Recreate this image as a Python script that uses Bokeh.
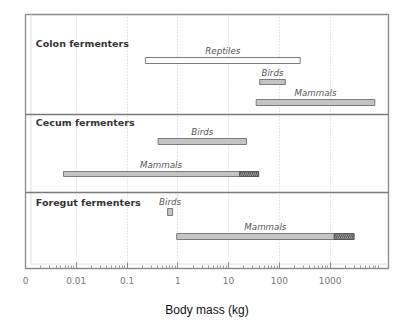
from bokeh.plotting import figure
from bokeh.models import Range1d, FixedTicker, Span, BoxAnnotation
from bokeh.core.properties import value
from bokeh.embed import file_html
from bokeh.resources import INLINE
import math

# ---- data (body mass ranges, kg) ----
groups = ["Colon fermenters", "Cecum fermenters", "Foregut fermenters"]

colon_taxa = ["Reptiles", "Birds", "Mammals"]
colon_min = [0.23, 41, 35]
colon_max = [257, 131, 7600]
colon_ext = [None, None, None]

cecum_taxa = ["Birds", "Mammals"]
cecum_min = [0.41, 0.0056]
cecum_max = [22.6, 16.5]
cecum_ext = [None, 39]

foregut_taxa = ["Birds", "Mammals"]
foregut_min = [0.63, 0.95]
foregut_max = [0.79, 1200]
foregut_ext = [None, 2950]

tick_values = [0.001, 0.01, 0.1, 1, 10, 100, 1000]
tick_labels = ["0", "0.01", "0.1", "1", "10", "100", "1000"]

# ---- layout (vertical positions in frame pixels from top) ----
group_label_y = [43, 122, 202]
separators_y = [114, 192]
colon_rows = [(57, 63), (79, 84), (99, 105)]
cecum_rows = [(138, 144), (171, 176)]
foregut_rows = [(208, 215), (233, 239)]

p = figure(width=403, height=322, x_axis_type="log",
           x_range=Range1d(0.001, 10 ** 4.15), y_range=Range1d(268, 14),
           output_backend="svg", toolbar_location=None,
           min_border_left=25, min_border_right=15, min_border_top=14,
           min_border_bottom=54)
p.yaxis.visible = False
p.ygrid.visible = False
p.outline_line_color = "#8a8a8a"
p.outline_line_width = 1.3
p.background_fill_color = "white"
p.border_fill_color = "white"

# thin outer picture frame (top and left)
p.add_layout(BoxAnnotation(left=5, right=410, top=4, bottom=5, left_units="screen",
                           right_units="screen", top_units="screen", bottom_units="screen",
                           fill_color="#dddddd", fill_alpha=1, line_alpha=0, level="underlay"))
p.add_layout(BoxAnnotation(left=5, right=6, top=4, bottom=285, left_units="screen",
                           right_units="screen", top_units="screen", bottom_units="screen",
                           fill_color="#dddddd", fill_alpha=1, line_alpha=0, level="underlay"))

minors = []
for d in range(-3, 4):
    for m in range(2, 10):
        minors.append(m * 10 ** d)
ticker = FixedTicker(ticks=tick_values, minor_ticks=minors)
p.xaxis.ticker = ticker
p.xaxis.major_label_overrides = {v: l for v, l in zip(tick_values, tick_labels)}
p.xaxis.major_tick_in = 6
p.xaxis.major_tick_out = 0
p.xaxis.minor_tick_in = 3
p.xaxis.minor_tick_out = 0
p.xaxis.axis_line_color = "#8a8a8a"
p.xaxis.major_tick_line_color = "#888888"
p.xaxis.minor_tick_line_color = "#999999"
p.xaxis.major_label_text_color = "#777777"
p.xaxis.major_label_text_font = "DejaVu Sans"
p.xaxis.major_label_text_font_size = "9px"
p.xaxis.major_label_standoff = 8
p.xaxis.axis_label = "Body mass (kg)"
p.xaxis.axis_label_text_font = "Liberation Sans"
p.xaxis.axis_label_text_font_style = "normal"
p.xaxis.axis_label_text_font_size = "12px"
p.xaxis.axis_label_text_color = "#111111"
p.xaxis.axis_label_standoff = 16
p.xgrid.ticker = FixedTicker(ticks=tick_values[1:])
p.xgrid.grid_line_color = "#cccccc"
p.xgrid.grid_line_dash = "1 2"

for sy in separators_y:
    p.add_layout(Span(location=sy, dimension="width", line_color="#7a7a7a", line_width=1.3))

bar_fill = "#c4c4c4"
bar_line = "#7a7a7a"

def draw(taxa, lo, hi, ext, rows, first_white=False):
    for i, (t, a, b, e, (y0, y1)) in enumerate(zip(taxa, lo, hi, ext, rows)):
        fill = "white" if (first_white and i == 0) else bar_fill
        end = e if e is not None else b
        p.quad(left=[a], right=[end], top=[y0], bottom=[y1], fill_color=fill,
               line_color=bar_line, line_width=1)
        if e is not None:
            p.quad(left=[b], right=[e], top=[y0], bottom=[y1], fill_color="#5c5c5c",
                   hatch_pattern="/", hatch_color="#9a9a9a", hatch_scale=4, hatch_weight=1,
                   line_color="#555555", line_width=1)
        xc = math.sqrt(a * end)
        p.text(x=[xc], y=[y0 - 7], text=[t], text_align="center", text_baseline="middle",
               text_font=value("DejaVu Sans"), text_font_style="italic",
               text_font_size="8.7px", text_color="#555555")

draw(colon_taxa, colon_min, colon_max, colon_ext, colon_rows, first_white=True)
draw(cecum_taxa, cecum_min, cecum_max, cecum_ext, cecum_rows)
draw(foregut_taxa, foregut_min, foregut_max, foregut_ext, foregut_rows)

p.text(x=[0.0016] * 3, y=group_label_y, text=groups, text_align="left",
       text_baseline="middle", text_font=value("DejaVu Sans"), text_font_style="bold",
       text_font_size="9.5px", text_color="#333333")

open("out.html", "w").write(file_html(p, INLINE))
